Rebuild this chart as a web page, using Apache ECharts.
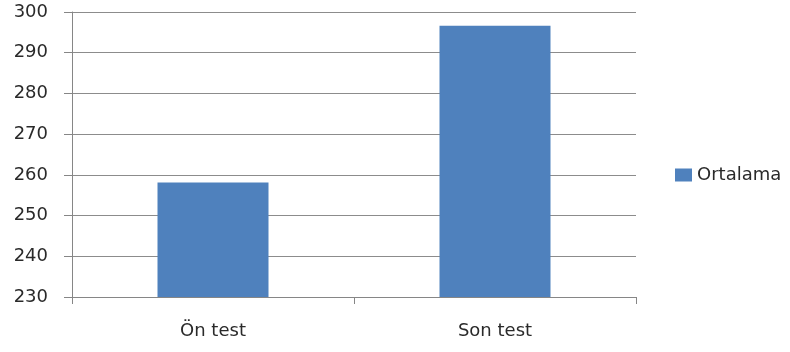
<!DOCTYPE html>
<html><head><meta charset="utf-8">
<script src="https://cdn.jsdelivr.net/npm/echarts@6/dist/echarts.min.js"></script>
<style>html,body{margin:0;padding:0;background:#fff}#c{width:790px;height:352px}</style>
</head><body><div id="c"></div>
<script>
const categories = ["Ön test", "Son test"];
const seriesName = "Ortalama";
const values = [258.1, 296.6];
const yMin = 230, yMax = 300, yStep = 10;

const chart = echarts.init(document.getElementById('c'), null, {renderer: 'canvas'});
const font = "'DejaVu Sans', sans-serif";
chart.setOption({
  animation: false,
  grid: {left: 72, right: 154, top: 12, bottom: 55, containLabel: false},
  legend: {
    data: [seriesName], orient: 'vertical', left: 675, top: 166, padding: 0,
    itemWidth: 17, itemHeight: 13, itemGap: 4,
    textStyle: {fontFamily: font, fontSize: 18, color: '#2a2a2a'},
    icon: 'rect'
  },
  xAxis: {
    type: 'category', data: categories, boundaryGap: true,
    axisLine: {lineStyle: {color: '#868686', width: 1}},
    axisTick: {show: true, length: 7, alignWithLabel: false, lineStyle: {color: '#868686'}},
    axisLabel: {fontFamily: font, fontSize: 18, color: '#2a2a2a', margin: 25}
  },
  yAxis: {
    type: 'value', min: yMin, max: yMax, interval: yStep,
    axisLine: {show: true, lineStyle: {color: '#868686', width: 1}},
    axisTick: {show: true, length: 8, lineStyle: {color: '#868686'}},
    splitLine: {lineStyle: {color: '#8c8c8c', width: 1}},
    axisLabel: {fontFamily: font, fontSize: 18, color: '#2a2a2a', margin: 24}
  },
  series: [{
    name: seriesName, type: 'bar', data: values, barWidth: 111,
    itemStyle: {color: '#4f81bd'}
  }]
});
</script></body></html>
